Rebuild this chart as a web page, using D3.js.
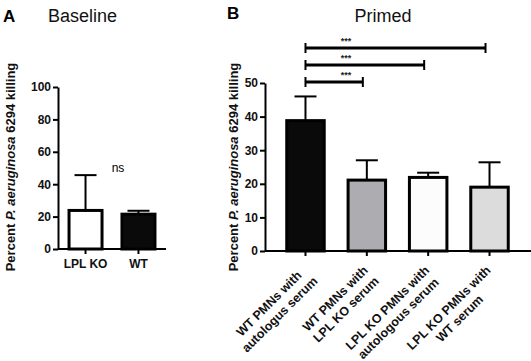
<!DOCTYPE html>
<html>
<head>
<meta charset="utf-8">
<script src="https://cdn.jsdelivr.net/npm/d3@7"></script>
<style>
  body { margin: 0; background: #fff; }
  svg { font-family: "Liberation Sans", Arial, sans-serif; }
  .tick text { font-weight: bold; font-size: 12px; fill: #111; }
</style>
</head>
<body>
<div id="chart"></div>
<script>
// panel A data
const catsA = ["LPL KO", "WT"];
const meanA = [23.8, 21.5];
const errA = [45.6, 23.6];
const fillA = ["#ffffff", "#0a0a0a"];
const ticksA = [0, 20, 40, 60, 80, 100];

// panel B data
const catsB = [
  ["WT PMNs with", "autologus serum"],
  ["WT PMNs with", "LPL KO serum"],
  ["LPL KO PMNs with", "autologous serum"],
  ["LPL KO PMNs with", "WT serum"]
];
const meanB = [38.8, 21.1, 21.9, 19.0];
const errB = [46.0, 27.0, 23.3, 26.4];
const fillB = ["#0a0a0a", "#adadb1", "#fcfcfc", "#dcdcdc"];
const ticksB = [0, 10, 20, 30, 40, 50];
// comparisons: [from, to, label]
const sigB = [[0, 3, "***"], [0, 2, "***"], [0, 1, "***"]];

const svg = d3.select("#chart").append("svg")
  .attr("width", 531).attr("height", 361);

function yLabel(x, y) {
  const t = svg.append("text")
    .attr("transform", `translate(${x},${y}) rotate(-90)`)
    .attr("text-anchor", "middle")
    .style("font-weight", "bold").style("font-size", "13px")
    .attr("fill", "#111");
  t.append("tspan").text("Percent ");
  t.append("tspan").style("font-style", "italic").text("P. aeruginosa");
  t.append("tspan").text(" 6294 killing");
}

// *Panel A
const xA = d3.scaleBand().domain(catsA).range([58, 166]).paddingInner(0.32).paddingOuter(0.18);
const yA = d3.scaleLinear().domain([0, 100]).range([249, 87]);

svg.append("text").attr("x", 3).attr("y", 22)
  .style("font-weight", "bold").style("font-size", "17px").text("A");
svg.append("text").attr("x", 48).attr("y", 22)
  .style("font-size", "18px").attr("fill", "#111").text("Baseline");

// error bars first (bars drawn over)
const gA = svg.append("g");
catsA.forEach((c, i) => {
  const cx = xA(c) + xA.bandwidth() / 2;
  gA.append("line").attr("x1", cx).attr("x2", cx)
    .attr("y1", yA(meanA[i])).attr("y2", yA(errA[i]))
    .attr("stroke", "#000").attr("stroke-width", 2);
  gA.append("line").attr("x1", cx - 11).attr("x2", cx + 11)
    .attr("y1", yA(errA[i])).attr("y2", yA(errA[i]))
    .attr("stroke", "#000").attr("stroke-width", 2);
});
gA.selectAll("rect").data(catsA).join("rect")
  .attr("x", d => xA(d) + 1.5)
  .attr("width", xA.bandwidth() - 3)
  .attr("y", (d, i) => yA(meanA[i]))
  .attr("height", (d, i) => yA(0) - yA(meanA[i]))
  .attr("fill", (d, i) => fillA[i])
  .attr("stroke", "#000").attr("stroke-width", 3);

svg.append("g").attr("transform", "translate(58,0)")
  .call(d3.axisLeft(yA).tickValues(ticksA).tickSize(5).tickSizeOuter(0).tickPadding(2))
  .call(g => g.selectAll("line,path").attr("stroke", "#000").attr("stroke-width", 2));
svg.append("g").attr("transform", "translate(0,249)")
  .call(d3.axisBottom(xA).tickSize(5).tickSizeOuter(0).tickPadding(5))
  .call(g => g.selectAll("line,path").attr("stroke", "#000").attr("stroke-width", 2))
  .call(g => g.select(".domain").attr("d", "M58,0H166"));

svg.append("text").attr("x", 118).attr("y", 172).attr("text-anchor", "middle")
  .style("font-size", "12px").attr("fill", "#000").text("ns");
yLabel(15, 167);

// *Panel B
const xB = d3.scaleBand().domain(d3.range(catsB.length)).range([265, 530])
  .paddingInner(0.34).paddingOuter(0.33);
const yB = d3.scaleLinear().domain([0, 50]).range([251, 83]);

svg.append("text").attr("x", 227).attr("y", 19)
  .style("font-weight", "bold").style("font-size", "17px").text("B");
svg.append("text").attr("x", 383).attr("y", 22).attr("text-anchor", "middle")
  .style("font-size", "18px").attr("fill", "#111").text("Primed");

const gB = svg.append("g");
meanB.forEach((m, i) => {
  const cx = xB(i) + xB.bandwidth() / 2;
  gB.append("line").attr("x1", cx).attr("x2", cx)
    .attr("y1", yB(m)).attr("y2", yB(errB[i]))
    .attr("stroke", "#000").attr("stroke-width", 2);
  gB.append("line").attr("x1", cx - 11).attr("x2", cx + 11)
    .attr("y1", yB(errB[i])).attr("y2", yB(errB[i]))
    .attr("stroke", "#000").attr("stroke-width", 2);
});
gB.selectAll("rect").data(meanB).join("rect")
  .attr("x", (d, i) => xB(i) + 1.5)
  .attr("width", xB.bandwidth() - 3)
  .attr("y", d => yB(d))
  .attr("height", d => yB(0) - yB(d))
  .attr("fill", (d, i) => fillB[i])
  .attr("stroke", "#000").attr("stroke-width", 3);

svg.append("g").attr("transform", "translate(265,0)")
  .call(d3.axisLeft(yB).tickValues(ticksB).tickSize(5).tickSizeOuter(0).tickPadding(2))
  .call(g => g.selectAll("line,path").attr("stroke", "#000").attr("stroke-width", 2));
svg.append("g").attr("transform", "translate(0,251)")
  .call(d3.axisBottom(xB).tickSize(5).tickSizeOuter(0).tickFormat(""))
  .call(g => g.selectAll("line,path").attr("stroke", "#000").attr("stroke-width", 2))
  .call(g => g.select(".domain").attr("d", "M265,0H531"));

// rotated two-line category labels: lines centred on each other,
// block's right end at the tick
catsB.forEach((lines, i) => {
  const cx = xB(i) + xB.bandwidth() / 2;
  const t = svg.append("text")
    .attr("transform", `translate(${cx + 2},${271}) rotate(-45)`)
    .attr("text-anchor", "middle")
    .style("font-weight", "bold").style("font-size", "12.5px").attr("fill", "#111");
  const spans = lines.map((l, j) =>
    t.append("tspan").attr("dy", j === 0 ? 0 : "1.22em").text(l));
  const w = d3.max(spans, s => s.node().getComputedTextLength());
  spans.forEach(s => s.attr("x", -w / 2));
});

// significance brackets
const bracketY = [48, 65, 82];
sigB.forEach((s, k) => {
  const x1 = xB(s[0]) + xB.bandwidth() / 2;
  const x2 = xB(s[1]) + xB.bandwidth() / 2 - 4;
  const y = bracketY[k];
  const g = svg.append("g").attr("stroke", "#000");
  g.append("line").attr("x1", x1).attr("x2", x2).attr("y1", y).attr("y2", y).attr("stroke-width", 3);
  g.append("line").attr("x1", x1).attr("x2", x1).attr("y1", y - 5).attr("y2", y + 5).attr("stroke-width", 2);
  g.append("line").attr("x1", x2).attr("x2", x2).attr("y1", y - 5).attr("y2", y + 5).attr("stroke-width", 2);
  svg.append("text").attr("x", 346).attr("y", y - 4).attr("text-anchor", "middle")
    .style("font-size", "9px").style("font-weight", "bold").attr("fill", "#222").text(s[2]);
});

yLabel(238, 167);
</script>
</body>
</html>
